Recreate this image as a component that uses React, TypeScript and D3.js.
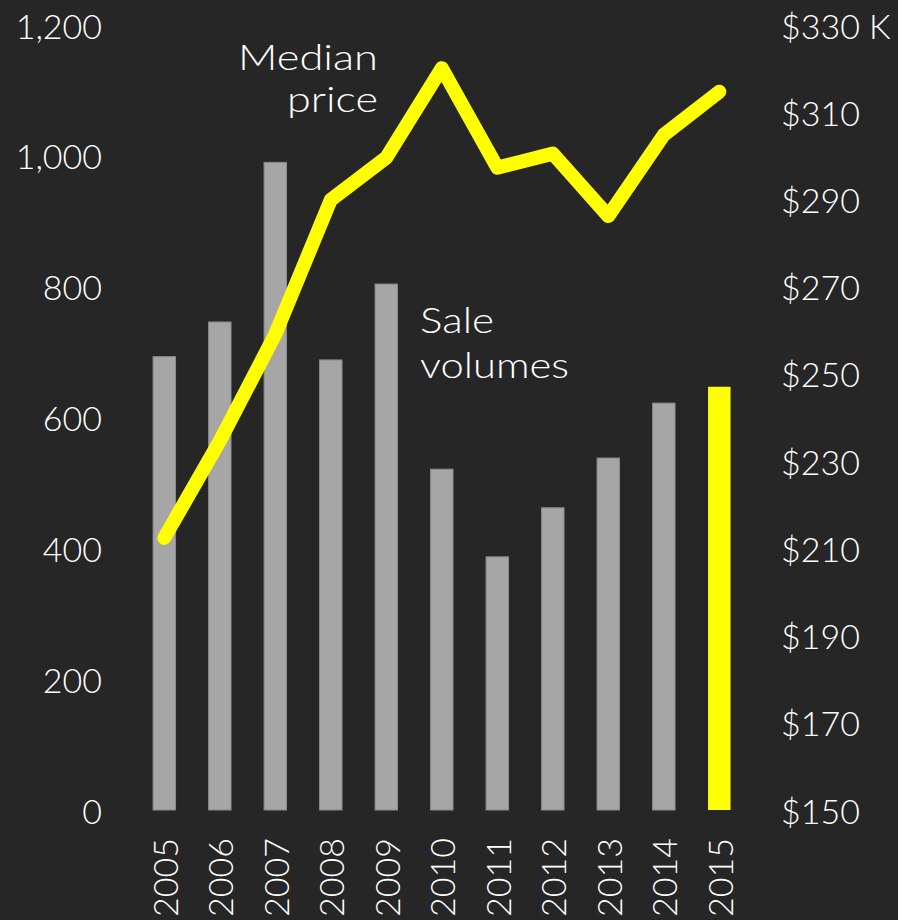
import React from "react";
import * as d3 from "d3";

const years = ["2005","2006","2007","2008","2009","2010","2011","2012","2013","2014","2015"];
const saleVolumes = [693, 746, 990, 688, 804, 521, 387, 462, 538, 622, 647];
const medianPrice = [212.4, 234.6, 259.1, 289.9, 299.6, 320.1, 297.3, 300.5, 286.2, 304.8, 314.7];
const leftTicks = [0, 200, 400, 600, 800, 1000, 1200];
const rightTicks = [150, 170, 190, 210, 230, 250, 270, 290, 310, 330];

const W = 898;
const H = 920;
const FONT = "Lato, 'Open Sans', sans-serif";

export default function App() {
  const x = d3.scaleBand<string>()
    .domain(years)
    .range([136.55, 747.05])
    .paddingInner(0.595)
    .paddingOuter(0.2975);
  const yL = d3.scaleLinear().domain([0, 1200]).range([810, 25]);
  const yR = d3.scaleLinear().domain([150, 330]).range([810, 25]);
  const cx = (d: string) => (x(d) as number) + x.bandwidth() / 2;

  const line = d3.line<number>()
    .x((_, i) => cx(years[i]))
    .y((d) => yR(d));

  const fmt = d3.format(",");

  return (
    <svg width={W} height={H} style={{ position: "absolute", left: 0, top: 0, display: "block" }}>
      <rect x={0} y={0} width={W} height={H} fill="#262626" />
      {years.map((yr, i) => (
        <rect
          key={yr}
          x={x(yr)}
          y={yL(saleVolumes[i])}
          width={x.bandwidth()}
          height={yL(0) - yL(saleVolumes[i])}
          fill={i === years.length - 1 ? "#FFFF00" : "#A6A6A6"}
          stroke={i === years.length - 1 ? "none" : "#8a8a8a"}
          strokeWidth={1}
        />
      ))}
      <path
        d={line(medianPrice) || ""}
        fill="none"
        stroke="#FFFF00"
        strokeWidth={14}
        strokeLinecap="round"
        strokeLinejoin="round"
      />
      <g fontFamily={FONT} fontSize={34} fontWeight={300} fill="#ffffff">
        {leftTicks.map((t) => (
          <text key={t} x={102} y={yL(t)} textAnchor="end" dominantBaseline="central">
            {fmt(t)}
          </text>
        ))}
        {rightTicks.map((t) => (
          <text key={t} x={781} y={yR(t)} textAnchor="start" dominantBaseline="central">
            {t === 330 ? "$330 K" : `$${t}`}
          </text>
        ))}
        {years.map((yr) => (
          <text
            key={yr}
            transform={`translate(${cx(yr)},838) rotate(-90)`}
            textAnchor="end"
            dominantBaseline="central"
          >
            {yr}
          </text>
        ))}
        <g fontSize={35}>
          <text x={238} y={70} textLength={140} lengthAdjust="spacingAndGlyphs">Median</text>
          <text x={287} y={112} textLength={91} lengthAdjust="spacingAndGlyphs">price</text>
          <text x={420} y={333} textLength={74} lengthAdjust="spacingAndGlyphs">Sale</text>
          <text x={420} y={378} textLength={149} lengthAdjust="spacingAndGlyphs">volumes</text>
        </g>
      </g>
    </svg>
  );
}
